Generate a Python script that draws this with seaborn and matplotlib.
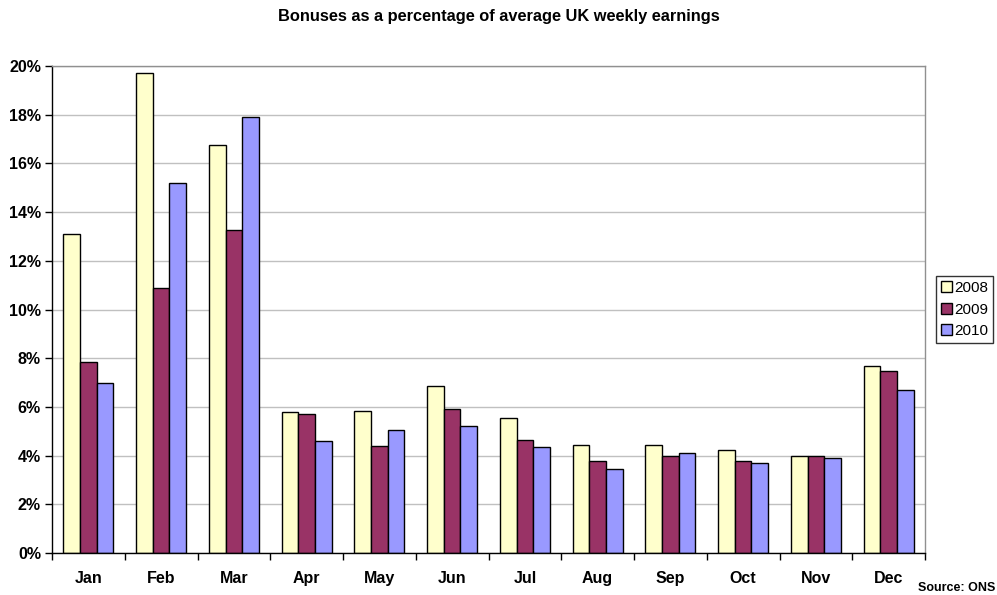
import matplotlib
matplotlib.use("Agg")
import matplotlib.pyplot as plt
import seaborn as sns
import pandas as pd
from matplotlib.ticker import FixedLocator, FuncFormatter

months = ["Jan", "Feb", "Mar", "Apr", "May", "Jun", "Jul", "Aug", "Sep", "Oct", "Nov", "Dec"]
years = ["2008", "2009", "2010"]
v2008 = [13.1, 19.7, 16.75, 5.8, 5.82, 6.86, 5.55, 4.45, 4.45, 4.22, 4.0, 7.7]
v2009 = [7.85, 10.88, 13.27, 5.71, 4.4, 5.92, 4.65, 3.76, 3.98, 3.76, 3.99, 7.46]
v2010 = [6.99, 15.2, 17.9, 4.6, 5.05, 5.22, 4.35, 3.45, 4.12, 3.68, 3.91, 6.7]
colors = ["#FFFFCC", "#993366", "#9999FF"]

df = pd.DataFrame({
    "month": months * 3,
    "year": [years[0]] * 12 + [years[1]] * 12 + [years[2]] * 12,
    "value": v2008 + v2009 + v2010,
})

sns.set_style("white")
plt.rcParams["font.family"] = ["Liberation Sans", "DejaVu Sans"]
plt.rcParams["text.color"] = "black"
plt.rcParams["xtick.color"] = "black"
plt.rcParams["ytick.color"] = "black"
plt.rcParams["axes.labelcolor"] = "black"

fig = plt.figure(figsize=(9.97, 5.95), dpi=100)
ax = fig.add_axes([52 / 997, 42 / 595, 873 / 997, 487 / 595])

sns.barplot(data=df, x="month", y="value", hue="year", order=months,
            hue_order=years, palette=colors, width=0.69, gap=0,
            edgecolor="black", linewidth=1.0, saturation=1, ax=ax, legend=True)

ax.set_xlim(-0.5, 11.5)
ax.set_ylim(0, 20)
ax.set_xlabel("")
ax.set_ylabel("")

ax.yaxis.set_major_locator(FixedLocator(range(0, 21, 2)))
ax.yaxis.set_major_formatter(FuncFormatter(lambda v, p: f"{int(v)}%"))
ax.grid(axis="y", color="#C0C0C0", linewidth=1)
ax.set_axisbelow(True)

ax.set_xticks([i - 0.5 for i in range(13)])
ax.set_xticklabels([""] * 13)
ax.set_xticks(range(12), minor=True)
ax.set_xticklabels(months, minor=True, fontsize=11.5, fontweight="bold", color="black")
ax.tick_params(axis="x", which="major", direction="out", length=5, width=1, color="black", bottom=True)
ax.tick_params(axis="x", which="minor", length=0, pad=13)
ax.tick_params(axis="y", direction="out", length=5, width=1, color="black", left=True,
               labelsize=11.5, pad=3, labelcolor="black")
for lab in ax.get_yticklabels():
    lab.set_fontweight("bold")

for side in ["left", "bottom"]:
    ax.spines[side].set_color("black")
    ax.spines[side].set_linewidth(1)
for side in ["top", "right"]:
    ax.spines[side].set_color("#909090")
    ax.spines[side].set_linewidth(1)

leg = ax.legend(loc="center left", bbox_to_anchor=(1.013, 0.5), frameon=True,
                fontsize=11, handlelength=0.7, handleheight=0.75, handletextpad=0.2,
                borderpad=0.3, borderaxespad=0, labelspacing=0.5, fancybox=False)
leg.get_frame().set_edgecolor("black")
leg.get_frame().set_linewidth(1)
for t in leg.get_texts():
    t.set_color("black")

fig.text(0.5, 1 - 17 / 595, "Bonuses as a percentage of average UK weekly earnings",
         ha="center", va="center", fontsize=11.8, fontweight="bold", color="black")
fig.text(995 / 997, 1 - 588 / 595, "Source: ONS", ha="right", va="center",
         fontsize=9, fontweight="bold", color="black")

fig.savefig("out.png", dpi=100)
